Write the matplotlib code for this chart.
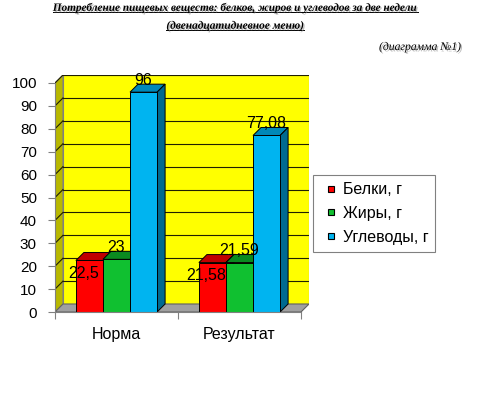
import matplotlib
matplotlib.use("Agg")
import matplotlib.pyplot as plt
import matplotlib.patheffects as pe
from matplotlib.patches import Polygon
from matplotlib.lines import Line2D

categories = ["Норма", "Результат"]
series = ["Белки, г", "Жиры, г", "Углеводы, г"]
values = [[22.5, 23, 96],
          [21.58, 21.59, 77.08]]
value_text = [["22,5", "23", "96"],
              ["21,58", "21,59", "77,08"]]
yticks = list(range(0, 101, 10))

front = ["#ff0000", "#10c030", "#00b4f0"]
top_c = ["#c00000", "#0a8a20", "#0088b8"]
side_c = ["#990000", "#066a18", "#006a90"]

plt.rcParams['font.family'] = ['Liberation Sans', 'DejaVu Sans']

fig = plt.figure(figsize=(4.8, 3.95), dpi=100)
ax = fig.add_axes([55 / 480, (395 - 312) / 395, 254 / 480, 237 / 395])

dx = 8 / 123   # depth in x (data units)
dy = 8 / 2.29  # depth in y (data units)
ax.set_xlim(0, 2 + dx)
ax.set_ylim(0, 100 + dy)

# walls and floor
ax.add_patch(Polygon([(dx, dy), (2 + dx, dy), (2 + dx, 100 + dy), (dx, 100 + dy)],
                     facecolor="#ffff00", edgecolor="#808080", lw=0.8, zorder=0))
ax.add_patch(Polygon([(0, 0), (dx, dy), (dx, 100 + dy), (0, 100)],
                     facecolor="#b8b800", edgecolor="#808080", lw=0.8, zorder=0))
ax.add_patch(Polygon([(0, 0), (2, 0), (2 + dx, dy), (dx, dy)],
                     facecolor="#a0a0a0", edgecolor="#606060", lw=0.8, zorder=0.5))
for v in yticks[1:]:
    ax.plot([dx, 2 + dx], [v + dy, v + dy], color="#202000", lw=0.8, zorder=0.2)
    ax.plot([0, dx], [v, v + dy], color="#202000", lw=0.8, zorder=0.2)

# 3d-looking bars
w = 0.22
offsets = [(-6, -13), (0, 12), (0, 12)]
z = 1
for i, cat in enumerate(categories):
    for j, name in enumerate(series):
        h = values[i][j]
        x0 = i + 0.17 + j * w
        ax.bar(x0, h, width=w, align="edge", color=front[j], edgecolor="black",
               lw=0.7, zorder=z + 0.5)
        ax.add_patch(Polygon([(x0, h), (x0 + w, h), (x0 + w + dx, h + dy), (x0 + dx, h + dy)],
                             facecolor=top_c[j], edgecolor="black", lw=0.7, zorder=z))
        ax.add_patch(Polygon([(x0 + w, 0), (x0 + w + dx, dy), (x0 + w + dx, h + dy), (x0 + w, h)],
                             facecolor=side_c[j], edgecolor="black", lw=0.7, zorder=z))
        z += 1
        ax.annotate(value_text[i][j], (x0 + w / 2, h), xytext=offsets[j],
                    textcoords="offset pixels", ha="center", va="center",
                    fontsize=11.5, zorder=20)

# axes
for s in ["top", "right"]:
    ax.spines[s].set_visible(False)
ax.spines["left"].set_bounds(0, 100)
ax.spines["bottom"].set_bounds(0, 2)
for s in ["left", "bottom"]:
    ax.spines[s].set_color("#808080")
    ax.spines[s].set_zorder(15)
ax.set_yticks(yticks)
ax.set_yticklabels([str(t) for t in yticks], fontsize=11)
ax.set_xticks([0, 1, 2])
ax.set_xticklabels([])
ax.set_xticks([0.5, 1.5], minor=True)
ax.set_xticklabels(categories, minor=True, fontsize=11.5)
ax.tick_params(axis="both", which="major", direction="out", length=5, color="#808080")
ax.tick_params(axis="y", pad=8)
ax.tick_params(axis="x", which="minor", length=0, pad=11)

# legend
handles = [Line2D([], [], marker="s", linestyle="none", markersize=5,
                  markerfacecolor=front[j], markeredgecolor="black", markeredgewidth=0.8)
           for j in range(3)]
leg = fig.legend(handles, series, loc="upper left", bbox_to_anchor=(313 / 480, 1 - 175 / 395),
                 fontsize=11.5, frameon=True, fancybox=False, edgecolor="#808080",
                 handlelength=1.4, handletextpad=0.0, labelspacing=0.55,
                 borderpad=0.45, borderaxespad=0, framealpha=1)
leg.get_frame().set_linewidth(0.8)

# titles
shadow = [pe.withSimplePatchShadow(offset=(1, -1), shadow_rgbFace="#909090", alpha=0.6)]
t1 = fig.text(0.49, 1 - 8 / 395, "Потребление пищевых веществ: белков, жиров и углеводов за две недели",
              family="Liberation Serif", style="italic", weight="bold", fontsize=8.1,
              ha="center", va="center", path_effects=shadow)
t2 = fig.text(0.49, 1 - 26 / 395, "(двенадцатидневное меню)",
              family="Liberation Serif", style="italic", weight="bold", fontsize=8.2,
              ha="center", va="center", path_effects=shadow)
fig.text(461 / 480, 1 - 47 / 395, "(диаграмма №1)", family="Liberation Serif",
         style="italic", fontsize=8.4, ha="right", va="center", path_effects=shadow)

r = fig.canvas.get_renderer()
for t in (t1, t2):
    bb = t.get_window_extent(renderer=r).transformed(fig.transFigure.inverted())
    fig.add_artist(Line2D([bb.x0, bb.x1], [bb.y0 + 0.002, bb.y0 + 0.002],
                          transform=fig.transFigure, color="black", lw=0.7))

fig.savefig("out.png", dpi=100)
